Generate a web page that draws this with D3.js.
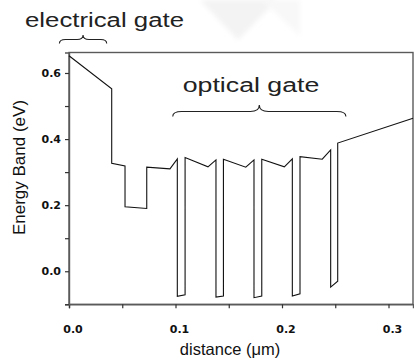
<!DOCTYPE html>
<html>
<head>
<meta charset="utf-8">
<script src="https://cdn.jsdelivr.net/npm/d3@7"></script>
<style>
  html, body { margin: 0; padding: 0; background: #fff; }
  svg { display: block; font-family: Arial, "Liberation Sans", Helvetica, sans-serif; }
  .ticklabel { font-family: "DejaVu Sans", Verdana, sans-serif; font-weight: bold; font-size: 11px; }
</style>
</head>
<body>
<svg id="chart" width="414" height="361"></svg>
<script>
// Band profile along the device: distance (µm) vs energy (eV)
const distance = [0, 0.0401, 0.0401, 0.0526, 0.0526, 0.073, 0.073, 0.0948, 0.1017, 0.1017,
  0.109, 0.109, 0.1305, 0.138, 0.138, 0.145, 0.145, 0.166, 0.1737, 0.1737,
  0.181, 0.181, 0.2022, 0.2097, 0.2097, 0.2169, 0.2169, 0.2378, 0.2457, 0.2457,
  0.2523, 0.2523, 0.323];
const energy = [0.652, 0.552, 0.327, 0.319, 0.195, 0.190, 0.315, 0.310, 0.340, -0.076,
  -0.071, 0.344, 0.316, 0.337, -0.078, -0.075, 0.339, 0.315, 0.337, -0.080,
  -0.075, 0.339, 0.316, 0.340, -0.075, -0.068, 0.347, 0.339, 0.367, -0.048,
  -0.030, 0.388, 0.463];

const xMajorTicks = [0, 0.1, 0.2, 0.3];
const xTickLabels = ["0.0", "0.1", "0.2", "0.3"];
const xMinorTicks = [0.05, 0.15, 0.25];
const yMajorTicks = [0, 0.2, 0.4, 0.6];
const yTickLabels = ["0.0", "0.2", "0.4", "0.6"];
const yMinorTicks = [-0.1, 0.1, 0.3, 0.5];

// Bracketed regions: [start, end] in µm
const gateNames = ["electrical gate", "optical gate"];
const gateSpans = [[-0.009, 0.0354], [0.0974, 0.260]];

const svg = d3.select("#chart");
const plotLeft = 69, plotRight = 413, plotTop = 52.5, plotBottom = 304.3;

const x = d3.scaleLinear().domain([0, 0.323]).range([plotLeft, plotRight]);
const y = d3.scaleLinear().domain([-0.1, 0.662]).range([plotBottom, plotTop]);

// faint background mark near the top
svg.append("defs").append("filter").attr("id", "soft")
  .append("feGaussianBlur").attr("stdDeviation", 2.5);
svg.append("path")
  .attr("d", "M200,0 L277,0 L238,40 Z")
  .attr("fill", "#f3f3f3")
  .attr("filter", "url(#soft)");
svg.append("path")
  .attr("d", "M262,0 L300,0 L300,36 Z")
  .attr("fill", "#f8f8f8")
  .attr("filter", "url(#soft)");

const axisColor = "#5a5a5a";

// frame
svg.append("rect")
  .attr("x", plotLeft).attr("y", plotTop)
  .attr("width", plotRight - plotLeft).attr("height", plotBottom - plotTop)
  .attr("fill", "none").attr("stroke", axisColor).attr("stroke-width", 1.4);

// x axis
const xAxis = svg.append("g").attr("transform", `translate(0,${plotBottom})`)
  .call(d3.axisBottom(x).tickValues(xMajorTicks.concat(xMinorTicks))
    .tickSize(4).tickFormat(""));
xAxis.select(".domain").attr("stroke", axisColor).attr("stroke-width", 1.4);
xAxis.selectAll(".tick line").attr("stroke", "#333").attr("stroke-width", 1.2);

svg.append("g").selectAll("text").data(xMajorTicks).join("text")
  .attr("class", "ticklabel")
  .attr("x", d => x(d) + 4).attr("y", 333)
  .attr("text-anchor", "middle").attr("fill", "#111")
  .text((d, i) => xTickLabels[i]);

// y axis
const yAxis = svg.append("g").attr("transform", `translate(${plotLeft},0)`)
  .call(d3.axisLeft(y).tickValues(yMajorTicks.concat(yMinorTicks))
    .tickSize(4).tickFormat(""));
yAxis.select(".domain").attr("stroke", axisColor).attr("stroke-width", 1.4);
yAxis.selectAll(".tick line").attr("stroke", "#333").attr("stroke-width", 1.2);

svg.append("g").selectAll("text").data(yMajorTicks).join("text")
  .attr("class", "ticklabel")
  .attr("x", 61).attr("y", d => y(d) + 4)
  .attr("text-anchor", "end").attr("fill", "#111")
  .text((d, i) => yTickLabels[i]);

// axis titles
svg.append("text")
  .attr("x", 230).attr("y", 355)
  .attr("text-anchor", "middle").attr("font-size", 16.5).attr("fill", "#111")
  .text("distance (μm)");

svg.append("text")
  .attr("transform", "translate(24.5,167.5) rotate(-90)")
  .attr("text-anchor", "middle").attr("font-size", 17).attr("fill", "#111")
  .text("Energy Band (eV)");

// band line
const pts = distance.map((d, i) => [d, energy[i]]);
svg.append("path")
  .datum(pts)
  .attr("d", d3.line().x(d => x(d[0])).y(d => y(d[1])))
  .attr("fill", "none").attr("stroke", "#111").attr("stroke-width", 1.1)
  .attr("stroke-linejoin", "miter");

// curly braces over the gate regions
function bracePath(x0, x1, yEnd, yMid, yTip, r) {
  const xm = (x0 + x1) / 2;
  return `M${x0},${yEnd} Q${x0},${yMid} ${x0 + r},${yMid} L${xm - r},${yMid}` +
    ` Q${xm},${yMid} ${xm},${yTip} Q${xm},${yMid} ${xm + r},${yMid}` +
    ` L${x1 - r},${yMid} Q${x1},${yMid} ${x1},${yEnd}`;
}
const braceRows = [
  { yEnd: 43.5, yMid: 39.5, yTip: 35, r: 6, labelX: 25, labelY: 26.7, len: 159, size: 19.5 },
  { yEnd: 116.5, yMid: 111.5, yTip: 105, r: 9, labelX: 182.7, labelY: 91.7, len: 136.7, size: 20 }
];
gateSpans.forEach((s, i) => {
  const b = braceRows[i];
  svg.append("path")
    .attr("d", bracePath(x(s[0]), x(s[1]), b.yEnd, b.yMid, b.yTip, b.r))
    .attr("fill", "none").attr("stroke", "#222").attr("stroke-width", 1.1);
  svg.append("text")
    .attr("x", b.labelX).attr("y", b.labelY)
    .attr("font-size", b.size).attr("fill", "#222")
    .attr("textLength", b.len).attr("lengthAdjust", "spacingAndGlyphs")
    .text(gateNames[i]);
});
</script>
</body>
</html>
